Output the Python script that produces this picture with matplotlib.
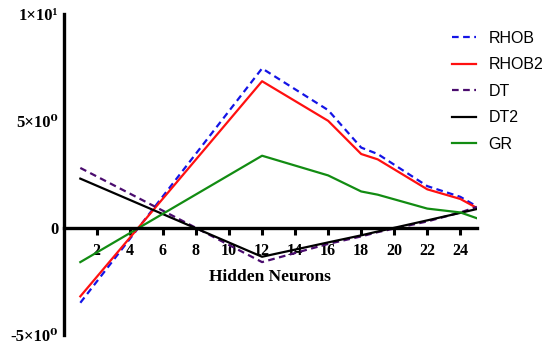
#!/usr/bin/env python3
# hidden neurons vs error curves

import matplotlib
matplotlib.use("Agg")
import matplotlib.pyplot as plt

neurons = [1, 12, 16, 18, 19, 22, 24, 25]
rhob = [-3.5, 7.45, 5.5, 3.75, 3.45, 1.95, 1.45, 1.0]
rhob2 = [-3.2, 6.85, 5.0, 3.45, 3.2, 1.8, 1.35, 0.93]
dt = [2.8, -1.6, -0.75, -0.4, -0.2, 0.3, 0.72, 0.98]
dt2 = [2.3, -1.35, -0.68, -0.35, -0.17, 0.35, 0.7, 0.88]
gr = [-1.6, 3.37, 2.45, 1.7, 1.55, 0.9, 0.72, 0.45]

xticks = [2, 4, 6, 8, 10, 12, 14, 16, 18, 20, 22, 24]
yticks = [-5, 0, 5, 10]
ylabels = ["-5×10⁰", "0", "5×10⁰", "1×10¹"]

serif = ["Liberation Serif", "DejaVu Serif"]
sans = ["Liberation Sans", "DejaVu Sans"]


def main():
	fig = plt.figure(figsize=(5.5, 3.54), dpi=100)
	ax = fig.add_axes([0.116, 0.054, 0.751, 0.907])

	lw = 1.6
	ax.plot(neurons, rhob, color="#1414e6", lw=lw, ls=(0, (3, 2)), label="RHOB")
	ax.plot(neurons, rhob2, color="#ff1010", lw=lw, label="RHOB2")
	ax.plot(neurons, dt, color="#4a0c6e", lw=lw, ls=(0, (3, 2)), label="DT")
	ax.plot(neurons, dt2, color="black", lw=lw, label="DT2")
	ax.plot(neurons, gr, color="#128c12", lw=lw, label="GR")

	ax.set_xlim(0, 25)
	ax.set_ylim(-5, 10)

	ax.spines["top"].set_visible(False)
	ax.spines["right"].set_visible(False)
	ax.spines["bottom"].set_position(("data", 0))
	ax.spines["left"].set_linewidth(2.4)
	ax.spines["bottom"].set_linewidth(2.4)

	ax.set_xticks(xticks)
	ax.set_xticklabels([str(t) for t in xticks], family=serif, weight="bold", fontsize=11.5)
	ax.tick_params(axis="x", direction="out", length=5, width=2.2, pad=6)

	ax.set_yticks(yticks)
	ax.set_yticklabels(ylabels, family=serif, weight="bold", fontsize=12)
	ax.tick_params(axis="y", length=0, pad=4)

	ax.text(12.5, -2.3, "Hidden Neurons", ha="center", va="center",
		family=serif, weight="bold", fontsize=12.5)

	fig.legend(loc="upper left", bbox_to_anchor=(0.808, 0.935), frameon=False,
		prop={"family": sans, "size": 11.5}, handlelength=1.5, handletextpad=0.75,
		labelspacing=0.72, borderpad=0)

	fig.savefig("out.png", dpi=100)


if __name__ == "__main__":
	main()
